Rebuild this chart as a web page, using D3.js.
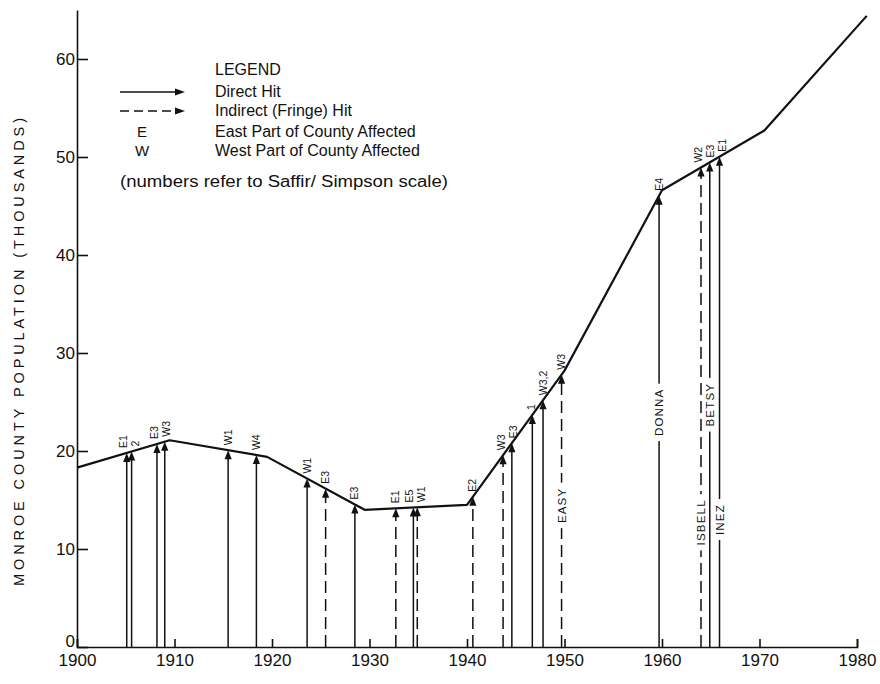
<!DOCTYPE html>
<html>
<head>
<meta charset="utf-8">
<script src="https://cdn.jsdelivr.net/npm/d3@7"></script>
<style>
  body { margin: 0; background: #fff; }
  svg { display: block; }
  text { font-family: "Liberation Sans", Arial, sans-serif; fill: #111; }
</style>
</head>
<body>
<div id="chart"></div>
<script>
// population of Monroe County, thousands
const popYears = [1900, 1909.5, 1919.5, 1929.5, 1940, 1950, 1960, 1970.5, 1981];
const popValues = [18.3, 21.1, 19.4, 14.0, 14.5, 28.2, 46.6, 52.7, 64.4];

// hurricanes hitting the county
const stormYears = [1905.1, 1905.6, 1908.2, 1909.0, 1915.5, 1918.4, 1923.6, 1925.5, 1928.5, 1932.7, 1934.5, 1934.9,
    1940.6, 1943.7, 1944.6, 1946.7, 1947.8, 1949.7, 1959.7, 1964.0, 1964.9, 1965.9];
const stormCodes = ['E1', '2', 'E3', 'W3', 'W1', 'W4', 'W1', 'E3', 'E3', 'E1', 'E5', 'W1',
    'E2', 'W3', 'E3', '1', 'W3,2', 'W3', 'E4', 'W2', 'E3', 'E1'];
const stormDirect = [true, true, true, true, true, true, true, false, true, false, true, false,
    false, false, true, true, true, false, true, false, true, true];
const stormNames = ['', '', '', '', '', '', '', '', '', '', '', '',
    '', '', '', '', '', 'EASY', 'DONNA', 'ISBELL', 'BETSY', 'INEZ'];

const xTicks = [1900, 1910, 1920, 1930, 1940, 1950, 1960, 1970, 1980];
const yTicks = [0, 10, 20, 30, 40, 50, 60];
const yTitle = 'MONROE COUNTY POPULATION (THOUSANDS)';

const legendTitle = 'LEGEND';
const legendSymbols = ['solid', 'dashed', 'E', 'W'];
const legendLabels = ['Direct Hit', 'Indirect (Fringe) Hit', 'East Part of County Affected', 'West Part of County Affected'];
const legendNote = '(numbers refer to Saffir/ Simpson scale)';

const width = 880, height = 684;
const ink = '#111';

const svg = d3.select('#chart').append('svg')
    .attr('width', width)
    .attr('height', height);

svg.append('rect').attr('width', width).attr('height', height).attr('fill', '#fff');

const x = d3.scaleLinear().domain([1900, 1980]).range([77, 857]);
const y = d3.scaleLinear().domain([0, 65]).range([647, 10]);

// population at any year, straight segments between the read points
const popAt = d3.scaleLinear().domain(popYears).range(popValues);

// axes
svg.append('g')
    .attr('transform', `translate(0,${y(0)})`)
    .call(d3.axisBottom(x).tickValues(xTicks).tickFormat(d3.format('d'))
        .tickSizeInner(-8).tickSizeOuter(-8).tickPadding(7))
    .call(g => g.selectAll('path, line').attr('stroke', ink).attr('stroke-width', 1.6))
    .call(g => g.selectAll('text').attr('fill', ink).attr('font-size', 17));

svg.append('g')
    .attr('transform', `translate(${x(1900)},0)`)
    .call(d3.axisLeft(y).tickValues(yTicks).tickSizeInner(-11).tickSizeOuter(0).tickPadding(2))
    .call(g => g.selectAll('path, line').attr('stroke', ink).attr('stroke-width', 1.6))
    .call(g => g.selectAll('text').attr('font-size', 17).attr('fill', ink))
    .call(g => g.selectAll('.tick').filter(d => d === 0).select('text').attr('dy', '-0.05em'));

// Y Axis Label
svg.append('text')
    .attr('text-anchor', 'middle')
    .attr('transform', 'rotate(-90)')
    .attr('x', -352)
    .attr('y', 24)
    .attr('font-size', 14.5)
    .attr('textLength', 468)
    .attr('lengthAdjust', 'spacing')
    .text(yTitle);

// population line
const line = d3.line()
    .x((d, i) => x(d))
    .y((d, i) => y(popValues[i]));

svg.append('path')
    .datum(popYears)
    .attr('fill', 'none')
    .attr('stroke', ink)
    .attr('stroke-width', 2.2)
    .attr('stroke-linejoin', 'round')
    .attr('d', line);

// fan out labels of arrows that sit too close together
function spread(xs, gap) {
    const out = xs.slice();
    let i = 0;
    while (i < xs.length) {
        let j = i;
        while (j + 1 < xs.length && xs[j + 1] - xs[j] < gap) j++;
        if (j > i) {
            const mid = d3.mean(xs.slice(i, j + 1));
            for (let k = i; k <= j; k++) out[k] = mid + (k - i - (j - i) / 2) * gap;
        }
        i = j + 1;
    }
    return out;
}

const storms = stormYears.map((yr, i) => ({
    year: yr,
    code: stormCodes[i],
    direct: stormDirect[i],
    name: stormNames[i],
    x: x(yr),
    top: y(popAt(yr))
}));
const labelX = spread(storms.map(d => d.x), 12);
storms.forEach((d, i) => d.labelX = labelX[i]);

// named storms in a tight group alternate low / mid so the names do not collide
const named = storms.filter(d => d.name);
named.forEach((d, i) => {
    const next = named[i + 1];
    const prev = named[i - 1];
    const inGroup = (next && next.x - d.x < 15) || (prev && d.x - prev.x < 15);
    d.nameFrac = 0.52;
    if (inGroup) {
        let k = i;
        while (k > 0 && named[k].x - named[k - 1].x < 15) k--;
        d.nameFrac = (i - k) % 2 === 0 ? 0.26 : 0.5;
    }
});

const headLen = 9, headW = 3.6;

const arrows = svg.append('g').selectAll('g')
    .data(storms)
    .enter().append('g');

arrows.append('line')
    .attr('x1', d => d.x)
    .attr('x2', d => d.x)
    .attr('y1', y(0))
    .attr('y2', d => d.top + headLen - 1)
    .attr('stroke', ink)
    .attr('stroke-width', 1.5)
    .attr('stroke-dasharray', d => d.direct ? null : '12,6');

arrows.append('path')
    .attr('d', d => `M${d.x},${d.top}L${d.x - headW},${d.top + headLen}L${d.x + headW},${d.top + headLen}Z`)
    .attr('fill', ink);

arrows.append('text')
    .attr('transform', d => `translate(${d.labelX + 3.5},${d.top - 5}) rotate(-90)`)
    .attr('font-size', 10.5)
    .text(d => d.code);

// storm names sit in a gap cut into the arrow
const names = svg.append('g').selectAll('g')
    .data(named)
    .enter().append('g')
    .attr('transform', d => `translate(${d.x},${y(0) - d.nameFrac * (y(0) - d.top)}) rotate(-90)`);

names.append('text')
    .attr('text-anchor', 'middle')
    .attr('dy', '0.35em')
    .attr('font-size', 11.5)
    .attr('letter-spacing', 1.2)
    .text(d => d.name);

names.insert('rect', 'text')
    .each(function() {
        const len = this.parentNode.querySelector('text').getComputedTextLength();
        d3.select(this)
            .attr('x', -len / 2 - 5)
            .attr('y', -5)
            .attr('width', len + 10)
            .attr('height', 10)
            .attr('fill', '#fff');
    });

// legend
const legend = svg.append('g');

legend.append('text')
    .attr('x', 215)
    .attr('y', 75)
    .attr('font-size', 16)
    .text(legendTitle);

const rowY = [92, 111, 132, 151];

legendSymbols.forEach((s, i) => {
    if (s === 'solid' || s === 'dashed') {
        legend.append('line')
            .attr('x1', 120).attr('x2', 178)
            .attr('y1', rowY[i]).attr('y2', rowY[i])
            .attr('stroke', ink).attr('stroke-width', 1.5)
            .attr('stroke-dasharray', s === 'dashed' ? '9,5' : null);
        legend.append('path')
            .attr('d', `M185,${rowY[i]}L175,${rowY[i] - 3.5}L175,${rowY[i] + 3.5}Z`)
            .attr('fill', ink);
    } else {
        legend.append('text')
            .attr('x', 142)
            .attr('y', rowY[i] + 5)
            .attr('text-anchor', 'middle')
            .attr('font-size', 15)
            .text(s);
    }
    legend.append('text')
        .attr('x', 215)
        .attr('y', rowY[i] + 5)
        .attr('font-size', 16)
        .text(legendLabels[i]);
});

legend.append('text')
    .attr('x', 120)
    .attr('y', 187)
    .attr('font-size', 16)
    .attr('textLength', 328)
    .attr('lengthAdjust', 'spacingAndGlyphs')
    .text(legendNote);
</script>
</body>
</html>
